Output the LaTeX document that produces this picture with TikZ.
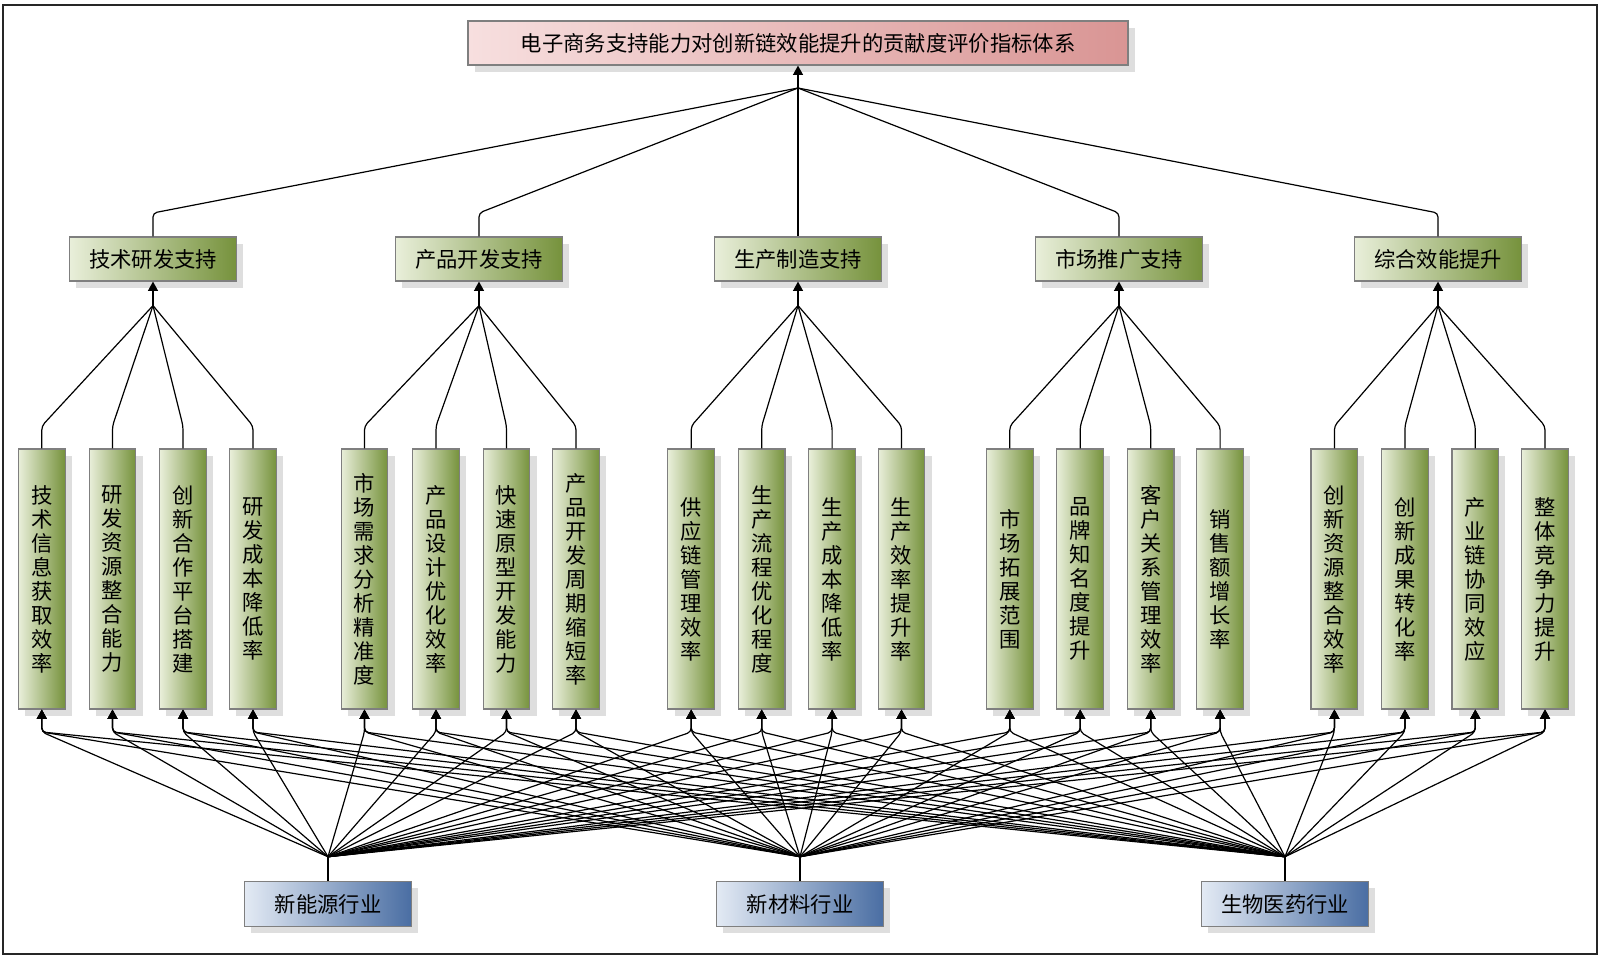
\documentclass[tikz,border=0pt]{standalone}
\usepackage{fontspec}
\setmainfont{Noto Sans CJK SC}
\usetikzlibrary{arrows.meta,shadows}
\definecolor{pinkL}{HTML}{F7DFDF}
\definecolor{pinkD}{HTML}{D99594}
\definecolor{greenL}{HTML}{E9EFDA}
\definecolor{greenD}{HTML}{76923C}
\definecolor{blueL}{HTML}{E3EAF4}
\definecolor{blueD}{HTML}{4A6EA3}
\definecolor{edgegray}{HTML}{7F7F7F}
\tikzset{
  base/.style={draw=edgegray, line width=0.9pt, inner sep=0pt,
    font=\fontsize{16}{18}\selectfont,
    general shadow={fill=black!13, shadow xshift=5pt, shadow yshift=-5pt}},
  titlebox/.style={base, left color=pinkL, right color=pinkD,
    minimum width=495pt, minimum height=33pt},
  midbox/.style={base, left color=greenL, right color=greenD,
    minimum width=125pt, minimum height=33pt},
  leafbox/.style={base, left color=greenL, right color=greenD,
    minimum width=35pt, minimum height=195pt, align=center},
  indbox/.style={base, left color=blueL, right color=blueD,
    minimum width=125pt, minimum height=34pt},
  link/.style={line width=0.9pt, black, rounded corners=3pt},
  arr/.style={link, -{Triangle[length=7pt,width=7.5pt]}}
}
\begin{document}
\begin{tikzpicture}[x=0.75pt,y=-0.75pt]
\useasboundingbox (0,0) rectangle (1600,959);
\draw[line width=1.5pt, black!85] (3,5) rectangle (1597,954);

\node[titlebox] (T) at (798,43) {电子商务支持能力对创新链效能提升的贡献度评价指标体系};

\foreach \n/\x/\t in {1/153/技术研发支持, 2/479/产品开发支持, 3/798/生产制造支持,
                      4/1119/市场推广支持, 5/1438/综合效能提升}
  \node[midbox] (M\n) at (\x,259) {\t};

\foreach \n/\x/\t in {
  1/41.8/{技\\术\\信\\息\\获\\取\\效\\率},
  2/112.5/{研\\发\\资\\源\\整\\合\\能\\力},
  3/183/{创\\新\\合\\作\\平\\台\\搭\\建},
  4/253/{研\\发\\成\\本\\降\\低\\率},
  5/364.5/{市\\场\\需\\求\\分\\析\\精\\准\\度},
  6/436/{产\\品\\设\\计\\优\\化\\效\\率},
  7/506.5/{快\\速\\原\\型\\开\\发\\能\\力},
  8/576/{产\\品\\开\\发\\周\\期\\缩\\短\\率},
  9/691.2/{供\\应\\链\\管\\理\\效\\率},
  10/761.7/{生\\产\\流\\程\\优\\化\\程\\度},
  11/832.1/{生\\产\\成\\本\\降\\低\\率},
  12/901.5/{生\\产\\效\\率\\提\\升\\率},
  13/1009.8/{市\\场\\拓\\展\\范\\围},
  14/1080.2/{品\\牌\\知\\名\\度\\提\\升},
  15/1150.7/{客\\户\\关\\系\\管\\理\\效\\率},
  16/1220.1/{销\\售\\额\\增\\长\\率},
  17/1334.4/{创\\新\\资\\源\\整\\合\\效\\率},
  18/1404.9/{创\\新\\成\\果\\转\\化\\率},
  19/1475.3/{产\\业\\链\\协\\同\\效\\应},
  20/1545/{整\\体\\竞\\争\\力\\提\\升}}
  \node[leafbox] (L\n) at (\x,579) {\t};

\foreach \n/\x/\t in {1/328/新能源行业, 2/800/新材料行业, 3/1285/生物医药行业}
  \node[indbox] (I\n) at (\x,904) {\t};

% helper levels
\coordinate (E1) at (0,213);
\coordinate (E2) at (0,426);
\coordinate (E3) at (0,732);
\coordinate (JT) at (798,88);

% top level
\draw[arr] (JT) -- (T.south);
\foreach \n in {1,...,5}
  \draw[link] (JT) -- (M\n.north |- E1) -- (M\n.north);

% level 2 to leaves
\foreach \n in {1,...,5} {
  \coordinate (J\n) at ([yshift=-18pt]M\n.south);
  \draw[arr] (J\n) -- (M\n.south);
}
\foreach \n in {1,...,20} {
  \pgfmathtruncatemacro\g{int((\n+3)/4)}
  \draw[link] (J\g) -- (L\n.north |- E2) -- (L\n.north);
}

% industries to leaves
\foreach \k in {1,2,3} {
  \coordinate (B\k) at ([yshift=18pt]I\k.north);
  \draw[link] (B\k) -- (I\k.north);
  \foreach \n in {1,...,20}
    \draw[arr] (B\k) -- (L\n.south |- E3) -- (L\n.south);
}
\end{tikzpicture}
\end{document}
